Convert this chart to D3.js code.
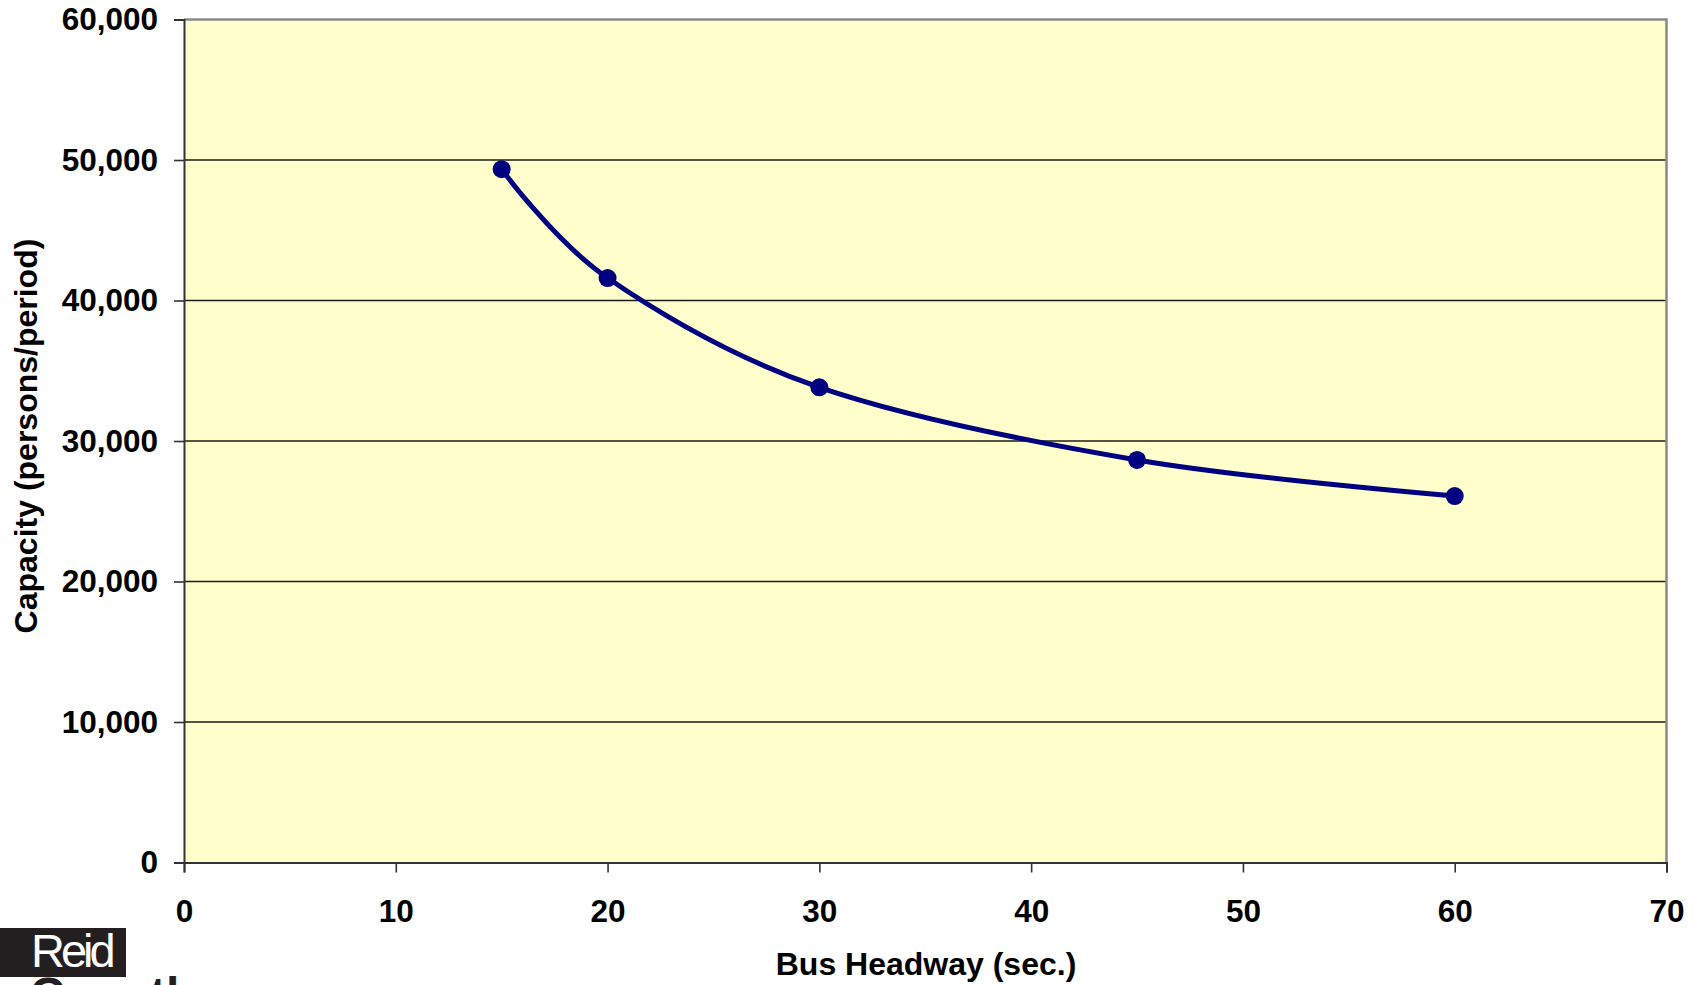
<!DOCTYPE html>
<html>
<head>
<meta charset="utf-8">
<script src="https://cdn.jsdelivr.net/npm/d3@7"></script>
<style>
  html, body { margin: 0; padding: 0; background: #ffffff; }
  svg { display: block; }
  text { font-family: "Liberation Sans", Arial, sans-serif; }
</style>
</head>
<body>
<script>
// Bus headway (seconds) vs. corridor capacity (persons per period)
const headways = [15, 20, 30, 45, 60];
const capacities = [49350, 41600, 33820, 28650, 26080];
const xTicks = [0, 10, 20, 30, 40, 50, 60, 70];
const yTicks = [0, 10000, 20000, 30000, 40000, 50000, 60000];
const xTitle = "Bus Headway (sec.)";
const yTitle = "Capacity (persons/period)";

const W = 1696, H = 985;
const plot = { left: 184, right: 1666.5, top: 19.5, bottom: 862.5 };

const svg = d3.select("body").append("svg")
  .attr("width", W).attr("height", H);

const x = d3.scaleLinear().domain([0, 70]).range([plot.left, plot.right]);
const y = d3.scaleLinear().domain([0, 60000]).range([plot.bottom, plot.top]);

// plot area
svg.append("rect")
  .attr("x", plot.left).attr("y", plot.top)
  .attr("width", plot.right - plot.left).attr("height", plot.bottom - plot.top)
  .attr("fill", "#ffffcc");

// horizontal gridlines
svg.append("g").selectAll("line")
  .data(yTicks.filter(d => d > 0 && d < 60000))
  .join("line")
  .attr("x1", plot.left).attr("x2", plot.right)
  .attr("y1", d => y(d)).attr("y2", d => y(d))
  .attr("stroke", "#1a1a1a").attr("stroke-width", 1.5);

// top and right frame
svg.append("path")
  .attr("d", `M${plot.left},${plot.top}H${plot.right}V${plot.bottom}`)
  .attr("fill", "none").attr("stroke", "#8c8c8c").attr("stroke-width", 2.6);

// y axis
const yAxis = svg.append("g")
  .attr("transform", `translate(${plot.left},0)`)
  .call(d3.axisLeft(y).tickValues(yTicks).tickSize(10).tickPadding(16)
    .tickFormat(d3.format(",")));
yAxis.select(".domain").attr("stroke", "#333").attr("stroke-width", 2);
yAxis.selectAll(".tick line").attr("stroke", "#333").attr("stroke-width", 1.6);
yAxis.selectAll(".tick text")
  .attr("font-size", 31.5).attr("font-weight", "bold").attr("fill", "#000")
  .attr("font-family", "Liberation Sans, Arial, sans-serif");

// x axis
const xAxis = svg.append("g")
  .attr("transform", `translate(0,${plot.bottom})`)
  .call(d3.axisBottom(x).tickValues(xTicks).tickSize(10).tickPadding(27));
xAxis.select(".domain").attr("stroke", "#333").attr("stroke-width", 2);
xAxis.selectAll(".tick line").attr("stroke", "#333").attr("stroke-width", 1.6);
xAxis.selectAll(".tick text")
  .attr("font-size", 31.5).attr("font-weight", "bold").attr("fill", "#000")
  .attr("font-family", "Liberation Sans, Arial, sans-serif");

// axis titles
svg.append("text")
  .attr("x", 926).attr("y", 975)
  .attr("text-anchor", "middle")
  .attr("font-size", 32).attr("font-weight", "bold")
  .text(xTitle);

svg.append("text")
  .attr("transform", "translate(36.5,436) rotate(-90)")
  .attr("text-anchor", "middle")
  .attr("font-size", 32).attr("font-weight", "bold")
  .text(yTitle);

// smoothed series line
const pts = headways.map((h, i) => [h, capacities[i]]);
const line = d3.line()
  .x(d => x(d[0])).y(d => y(d[1]))
  .curve(d3.curveCardinal.tension(0));

svg.append("path")
  .datum(pts)
  .attr("d", line)
  .attr("fill", "none")
  .attr("stroke", "#000080")
  .attr("stroke-width", 5)
  .attr("stroke-linejoin", "round");

svg.append("g").selectAll("circle")
  .data(pts)
  .join("circle")
  .attr("cx", d => x(d[0])).attr("cy", d => y(d[1]))
  .attr("r", 9)
  .attr("fill", "#000080");

// company logo, bottom left (second line runs off the page edge)
const logo = svg.append("g");
logo.append("rect")
  .attr("x", 0).attr("y", 928).attr("width", 126).attr("height", 49)
  .attr("fill", "#231f20");
logo.append("text")
  .attr("x", 31).attr("y", 967)
  .attr("font-size", 47).attr("letter-spacing", -4)
  .attr("fill", "#ffffff")
  .text("Reid");
logo.append("text")
  .attr("x", 30).attr("y", 1011)
  .attr("font-size", 48).attr("font-weight", "bold")
  .attr("fill", "#231f20")
  .text("Crowther");
</script>
</body>
</html>
